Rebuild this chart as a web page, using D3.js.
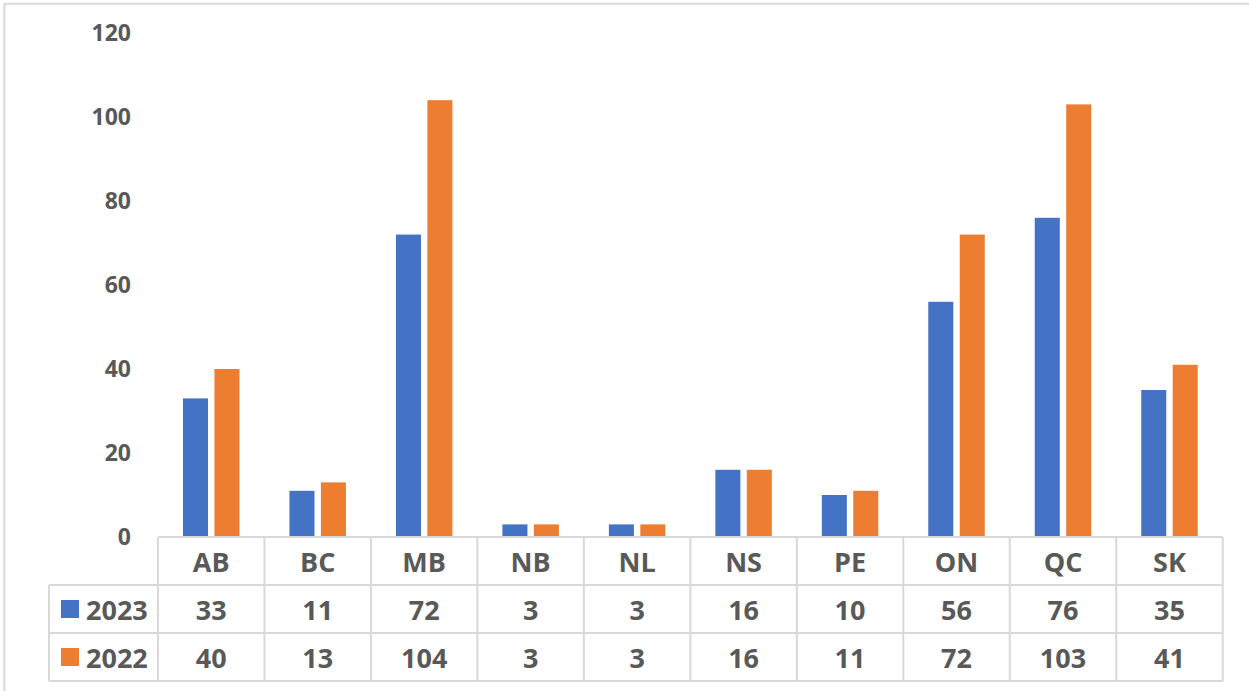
<!DOCTYPE html>
<html><head><meta charset="utf-8">
<script src="https://cdn.jsdelivr.net/npm/d3@7"></script>
<style>
html,body{margin:0;padding:0;background:#fff;}
text{font-family:"Open Sans",sans-serif;font-weight:700;fill:#595959;}
</style></head>
<body><svg id="c" width="1249" height="691"></svg>
<script>
const categories = ["AB","BC","MB","NB","NL","NS","PE","ON","QC","SK"];
const seriesNames = ["2023","2022"];
const values2023 = [33,11,72,3,3,16,10,56,76,35];
const values2022 = [40,13,104,3,3,16,11,72,103,41];
const yTicks = [0,20,40,60,80,100,120];
const colors = ["#4472C4","#ED7D31"];

const svg = d3.select("#c");
const gridColor = "#d9d9d9";

// outer chart border (top & left visible)
svg.append("line").attr("x1",4.3).attr("x2",1249).attr("y1",3.7).attr("y2",3.7).attr("stroke",gridColor).attr("stroke-width",2);
svg.append("line").attr("x1",4.3).attr("x2",4.3).attr("y1",3.7).attr("y2",691).attr("stroke",gridColor).attr("stroke-width",2);

const plotLeft = 158, plotRight = 1222.7;
const y0 = 537, yTop = 33;
const x = d3.scaleBand().domain(categories).range([plotLeft, plotRight]).paddingInner(0).paddingOuter(0);
const bw = x.bandwidth();
const x1 = d3.scaleBand().domain(seriesNames).range([25, bw-25]).paddingInner(0.204).paddingOuter(0);
const y = d3.scaleLinear().domain([0,120]).range([y0, yTop]);

const series = [values2023, values2022];
series.forEach((vals, si) => {
  svg.append("g").selectAll("rect").data(categories).join("rect")
    .attr("x", (c) => x(c) + x1(seriesNames[si]))
    .attr("width", x1.bandwidth())
    .attr("y", (c,i) => y(vals[i]))
    .attr("height", (c,i) => y(0) - y(vals[i]))
    .attr("fill", colors[si]);
});

// y axis labels
const yAxis = d3.axisLeft(y).tickValues(yTicks).tickSize(0).tickPadding(0);
const ga = svg.append("g").attr("transform","translate(131,0)").call(yAxis);
ga.select(".domain").remove();
ga.selectAll("text").style("font-size","23px").style("font-family","'Open Sans',sans-serif").style("font-weight","700").attr("fill","#595959");

// data table
const rowH = 48;
const rows = [y0, y0+rowH, y0+2*rowH, y0+3*rowH];
const legLeft = 49;
const tg = svg.append("g");
tg.append("line").attr("x1",plotLeft).attr("x2",plotRight).attr("y1",rows[0]).attr("y2",rows[0]).attr("stroke",gridColor).attr("stroke-width",2);
[1,2,3].forEach(r => tg.append("line").attr("x1",legLeft).attr("x2",plotRight).attr("y1",rows[r]).attr("y2",rows[r]).attr("stroke",gridColor).attr("stroke-width",2));
tg.append("line").attr("x1",legLeft).attr("x2",legLeft).attr("y1",rows[1]).attr("y2",rows[3]).attr("stroke",gridColor).attr("stroke-width",2);
categories.concat(["_end"]).forEach((c,i) => {
  const xx = plotLeft + i*bw;
  tg.append("line").attr("x1",xx).attr("x2",xx).attr("y1",rows[0]).attr("y2",rows[3]).attr("stroke",gridColor).attr("stroke-width",2);
});
tg.selectAll("text.cat").data(categories).join("text").attr("class","cat")
  .attr("x", c => x(c) + bw/2).attr("y", (rows[0]+rows[1])/2)
  .attr("text-anchor","middle").attr("dominant-baseline","central")
  .style("font-size","27px").text(c => c);
series.forEach((vals, si) => {
  const cy = (rows[si+1]+rows[si+2])/2;
  tg.append("rect").attr("x",61).attr("y",cy-9).attr("width",18).attr("height",18).attr("fill",colors[si]);
  tg.append("text").attr("x",86).attr("y",cy).attr("dominant-baseline","central").style("font-size","27px").text(seriesNames[si]);
  tg.selectAll("text.v"+si).data(categories).join("text").attr("class","v"+si)
    .attr("x", c => x(c) + bw/2).attr("y", cy)
    .attr("text-anchor","middle").attr("dominant-baseline","central")
    .style("font-size","27px").text((c,i) => vals[i]);
});
</script></body></html>
